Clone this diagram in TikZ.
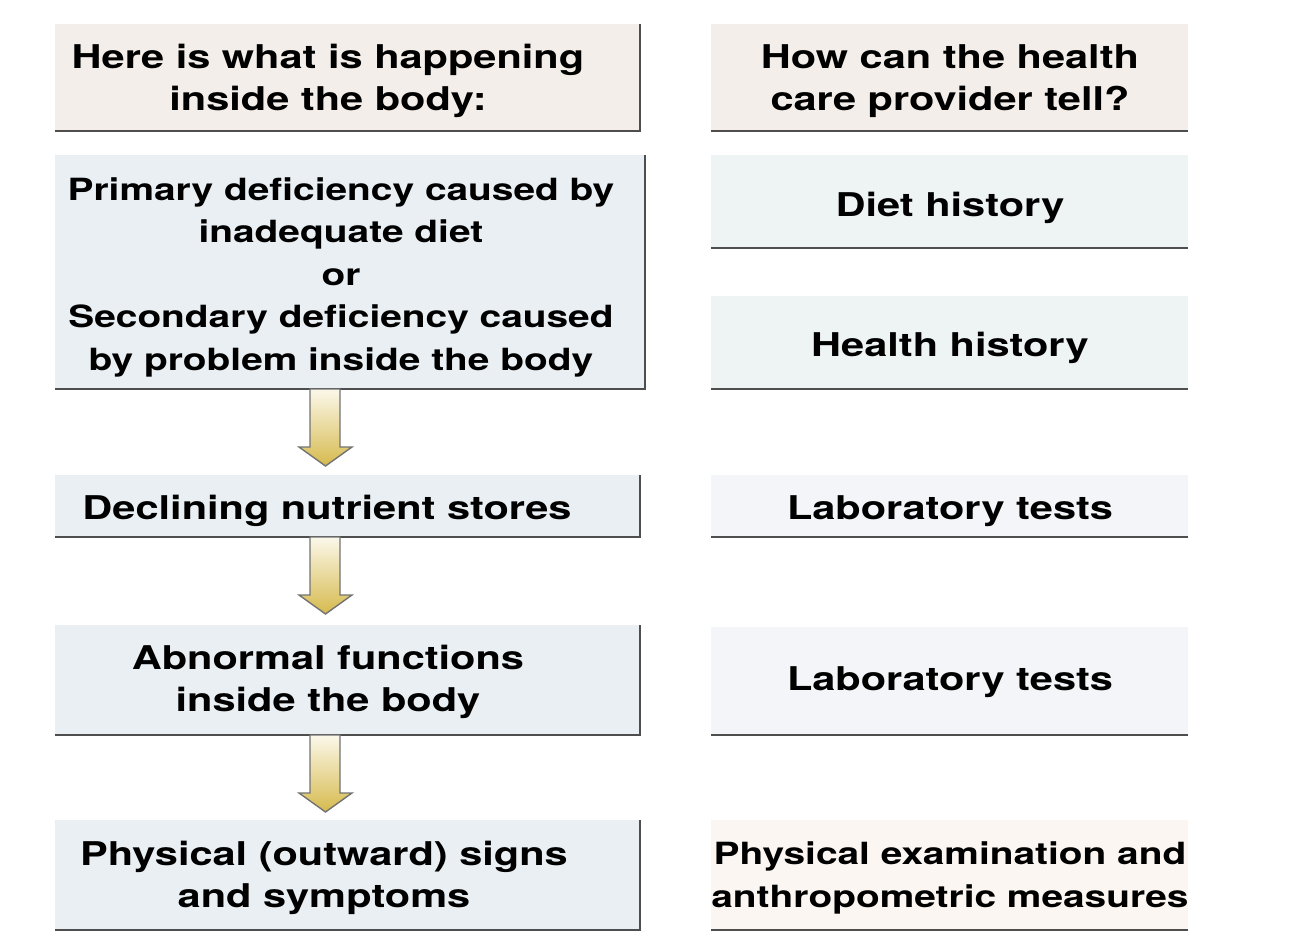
\documentclass[tikz,border=0pt]{standalone}
\usepackage{fontspec}
\setmainfont{TeX Gyre Heros}[FakeStretch=1.27]
\usetikzlibrary{calc}
\definecolor{hdrfill}{HTML}{F3EEE9}
\definecolor{lfill}{HTML}{E9EFF2}
\definecolor{rfill}{HTML}{EEF4F4}
\definecolor{labfill}{HTML}{F4F5F8}
\definecolor{physfill}{HTML}{FBF6F1}
\definecolor{edgecol}{HTML}{4E4E4E}
\definecolor{arrowtop}{HTML}{FBF8EA}
\definecolor{arrowbot}{HTML}{D6BA4E}
\tikzset{
  boxst/.style={rectangle, inner sep=0pt, outer sep=0pt, anchor=north west},
  txt/.style={align=center, inner sep=0pt, font=\bfseries\fontsize{32.7}{42.5}\selectfont},
  txtsmall/.style={align=center, inner sep=0pt, font=\bfseries\fontsize{30.6}{42.5}\selectfont},
  edge/.style={draw=edgecol, line width=2.6pt},
  arrowst/.style={draw=black!55, line width=1.4pt, line join=miter, top color=arrowtop, bottom color=arrowbot}
}
\newcommand\blockarrowdown[1]{%
  \shadedraw[arrowst] let \p1=(#1.south) in
    (310,\y1) -- (340,\y1) -- (340,\y1-58pt) -- (352,\y1-58pt) -- (325.5,\y1-77pt)
    -- (299,\y1-58pt) -- (310,\y1-58pt) -- cycle;}
\begin{document}
\begin{tikzpicture}[x=1pt,y=-1pt]
\useasboundingbox (0,0) rectangle (1309,932);
% left column boxes
\node[boxst, fill=hdrfill, minimum width=585pt, minimum height=107pt] (lh) at (55,24) {};
\node[boxst, fill=lfill, minimum width=590pt, minimum height=234pt] (l1) at (55,155) {};
\node[boxst, fill=lfill, minimum width=585pt, minimum height=62pt] (l2) at (55,475) {};
\node[boxst, fill=lfill, minimum width=585pt, minimum height=110pt] (l3) at (55,625) {};
\node[boxst, fill=lfill, minimum width=585pt, minimum height=110pt] (l4) at (55,820) {};
% right column boxes
\node[boxst, fill=hdrfill, minimum width=477pt, minimum height=107pt] (rh) at (711,24) {};
\node[boxst, fill=rfill, minimum width=477pt, minimum height=93pt] (r1) at (711,155) {};
\node[boxst, fill=rfill, minimum width=477pt, minimum height=93pt] (r2) at (711,296) {};
\node[boxst, fill=labfill, minimum width=477pt, minimum height=62pt] (r3) at (711,475) {};
\node[boxst, fill=labfill, minimum width=477pt, minimum height=108pt] (r4) at (711,627) {};
\node[boxst, fill=physfill, minimum width=477pt, minimum height=110pt] (r5) at (711,820) {};
% edges
\foreach \b in {lh,l1,l2,l3,l4}{
  \draw[edge] (\b.north east) -- (\b.south east) -- (\b.south west);
}
\foreach \b in {rh,r1,r2,r3,r4,r5}{
  \draw[edge] (\b.south east) -- (\b.south west);
}
% texts
\node[txt] (lht) at (328,81) {Here is what is happening\\inside the body:};
\node[txtsmall] (l1t) at (341,277) {Primary deficiency caused by\\inadequate diet\\or\\Secondary deficiency caused\\by problem inside the body};
\node[txt] (l2t) at (327,511) {Declining nutrient stores};
\node[txt] (l3t) at (328,682) {Abnormal functions\\inside the body};
\node[txt] (l4t) at (324,878) {Physical (outward) signs\\and symptoms};
\node[txt] (rht) at (950,81) {How can the health\\care provider tell?};
\node[txt] (r1t) at (950,208) {Diet history};
\node[txt] (r2t) at (950,348) {Health history};
\node[txt] (r3t) at (950,511) {Laboratory tests};
\node[txt] (r4t) at (950,682) {Laboratory tests};
\node[txtsmall] (r5t) at (950,878) {Physical examination and\\anthropometric measures};
% arrows
\blockarrowdown{l1}
\blockarrowdown{l2}
\blockarrowdown{l3}
\end{tikzpicture}
\end{document}
